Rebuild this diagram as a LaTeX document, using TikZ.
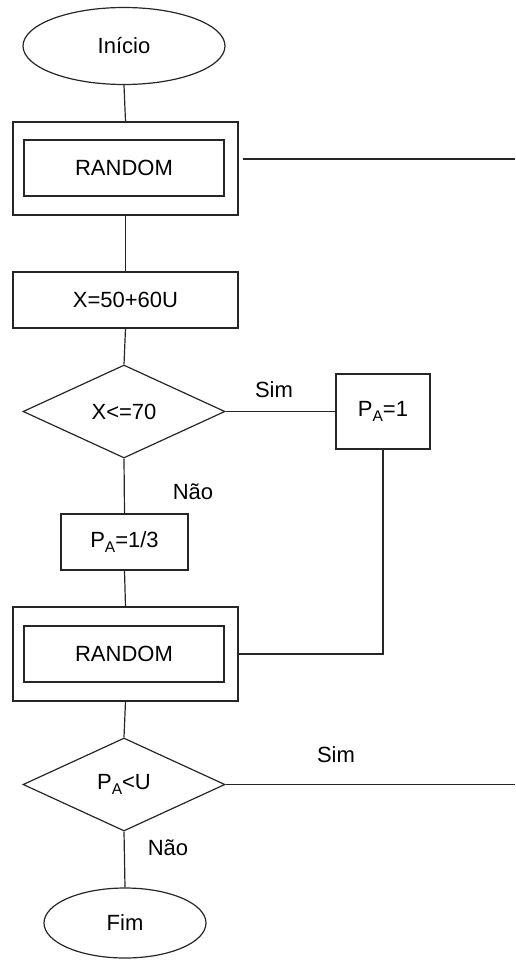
\documentclass[tikz,border=0pt]{standalone}
\usepackage{fontspec}
\setmainfont{Liberation Sans}
\usetikzlibrary{shapes.geometric}
\newcommand{\subA}{\raisebox{-5.5pt}{\fontsize{15.5}{15.5}\selectfont A}}
\begin{document}
\begin{tikzpicture}[x=1pt,y=-1pt,
  every node/.style={font=\fontsize{22}{26}\selectfont},
  line/.style={draw=black!85,line width=1.2pt},
  term/.style={ellipse,line,inner sep=0pt},
  proc/.style={rectangle,line,inner sep=0pt},
  dec/.style={diamond,line,inner sep=0pt,minimum width=202pt,minimum height=93pt},
  lbl/.style={inner sep=0pt}
]
\useasboundingbox (0,0) rectangle (515,960);
\node[term,minimum width=202pt,minimum height=77pt] (start) at (124,46) {Início};
\node[proc,minimum width=225pt,minimum height=93pt] (outA) at (125.5,168.5) {};
\node[proc,minimum width=200pt,minimum height=56pt] (inA) at (124,168) {RANDOM};
\node[proc,minimum width=225pt,minimum height=56pt] (calc) at (125.5,300) {X=50+60U};
\node[dec] (dA) at (124,411.5) {X<=70};
\node[proc,minimum width=94pt,minimum height=75pt] (pa1) at (383,411.5) {P\subA=1};
\node[proc,minimum width=127pt,minimum height=56pt] (pa3) at (124.5,542) {P\subA=1/3};
\node[proc,minimum width=225pt,minimum height=94pt] (outB) at (125.5,654) {};
\node[proc,minimum width=200pt,minimum height=56pt] (inB) at (124,654) {RANDOM};
\node[dec] (dB) at (124,784.5) {P\subA<U};
\node[term,minimum width=162pt,minimum height=70pt] (fim) at (125,923) {Fim};

\coordinate (r1a) at (243,159);
\coordinate (r1b) at (515,159);
\coordinate (r2) at (515,784.5);

\path[line] (start.south) -- (outA.north);
\path[line] (r1a) -- (r1b);
\path[line] (outA.south) -- (calc.north);
\path[line] (calc.south) -- (dA.north);
\path[line] (dA.east) -- (pa1.west);
\path[line] (pa1.south) |- (outB.east);
\path[line] (dA.south) -- (pa3.north);
\path[line] (pa3.south) -- (outB.north);
\path[line] (outB.south) -- (dB.north);
\path[line] (dB.east) -- (r2);
\path[line] (dB.south) -- (fim.north);

\node[lbl] (simA) at (274,390) {Sim};
\node[lbl] (naoA) at (193,492) {Não};
\node[lbl] (simB) at (336,755) {Sim};
\node[lbl] (naoB) at (168,848) {Não};
\end{tikzpicture}
\end{document}
